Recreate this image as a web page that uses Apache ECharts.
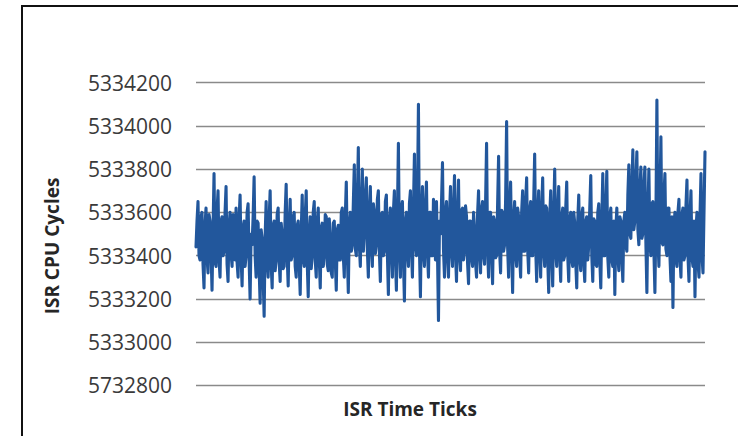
<!DOCTYPE html>
<html>
<head>
<meta charset="utf-8">
<script src="https://cdn.jsdelivr.net/npm/echarts@6/dist/echarts.min.js"></script>
<style>html,body{margin:0;padding:0;background:#fff}#c{width:738px;height:436px}</style>
</head>
<body>
<div id="c"></div>
<script>
// Y tick labels as printed in the original (bottom label typo kept)
const yTickLabels = ['5732800','5333000','5333200','5333400','5333600','5333800','5334000','5334200'];
const yMin = 5332800, yMax = 5334200, yStep = 200;

// ISR CPU cycles (approximate samples)
const cycles = [
5333440,5333560,5333650,5333400,5333380,5333580,5333600,5333360,5333250,5333540,5333620,5333390,5333320,5333590,5333560,5333420,5333240,5333520,5333780,5333370,
5333350,5333610,5333700,5333380,5333300,5333560,5333580,5333400,5333420,5333600,5333720,5333360,5333280,5333540,5333600,5333410,5333350,5333590,5333500,5333380,
5333620,5333370,5333300,5333570,5333680,5333390,5333260,5333530,5333560,5333350,5333400,5333600,5333640,5333380,5333200,5333500,5333450,5333580,5333765,5333400,
5333300,5333560,5333550,5333340,5333180,5333520,5333480,5333300,5333120,5333490,5333650,5333380,5333300,5333570,5333700,5333360,5333250,5333540,5333560,5333330,
5333380,5333590,5333620,5333370,5333280,5333550,5333500,5333340,5333350,5333600,5333730,5333400,5333260,5333530,5333660,5333380,5333400,5333580,5333600,5333350,
5333300,5333540,5333560,5333360,5333220,5333510,5333680,5333390,5333350,5333580,5333700,5333370,5333210,5333500,5333580,5333340,5333400,5333600,5333650,5333380,
5333300,5333560,5333620,5333390,5333250,5333530,5333550,5333350,5333400,5333590,5333580,5333360,5333330,5333570,5333480,5333320,5333300,5333550,5333560,5333380,
5333240,5333520,5333540,5333380,5333380,5333600,5333620,5333400,5333300,5333580,5333740,5333420,5333230,5333540,5333600,5333420,5333450,5333640,5333820,5333430,
5333400,5333650,5333900,5333450,5333350,5333620,5333800,5333420,5333500,5333680,5333760,5333430,5333300,5333600,5333720,5333440,5333350,5333640,5333600,5333410,
5333450,5333660,5333700,5333420,5333280,5333590,5333600,5333400,5333420,5333650,5333680,5333410,5333220,5333560,5333620,5333430,5333300,5333600,5333700,5333400,
5333240,5333580,5333920,5333440,5333300,5333620,5333650,5333390,5333190,5333560,5333600,5333420,5333350,5333640,5333700,5333430,5333300,5333610,5333870,5333450,
5333400,5333650,5334100,5333430,5333210,5333580,5333720,5333410,5333350,5333630,5333740,5333420,5333300,5333600,5333600,5333400,5333400,5333660,5333500,5333380,
5333650,5333420,5333100,5333560,5333500,5333640,5333830,5333430,5333300,5333600,5333650,5333400,5333300,5333590,5333720,5333420,5333350,5333620,5333770,5333410,
5333280,5333580,5333750,5333400,5333330,5333610,5333620,5333380,5333420,5333630,5333580,5333370,5333270,5333560,5333560,5333390,5333350,5333600,5333520,5333370,
5333300,5333590,5333700,5333410,5333320,5333620,5333650,5333400,5333360,5333640,5333920,5333430,5333300,5333600,5333600,5333410,5333270,5333580,5333560,5333390,
5333400,5333630,5333860,5333420,5333320,5333610,5333600,5333420,5333450,5333660,5334020,5333440,5333300,5333620,5333740,5333430,5333230,5333570,5333650,5333410,
5333350,5333620,5333580,5333400,5333300,5333600,5333700,5333420,5333420,5333650,5333760,5333430,5333320,5333610,5333650,5333400,5333400,5333640,5333870,5333440,
5333280,5333590,5333700,5333410,5333300,5333610,5333760,5333420,5333350,5333630,5333620,5333390,5333230,5333570,5333700,5333410,5333260,5333590,5333800,5333420,
5333350,5333610,5333720,5333400,5333280,5333580,5333620,5333380,5333400,5333620,5333740,5333400,5333280,5333570,5333600,5333380,5333350,5333600,5333550,5333370,
5333250,5333560,5333680,5333390,5333330,5333590,5333620,5333370,5333280,5333560,5333580,5333380,5333450,5333620,5333770,5333400,5333280,5333570,5333560,5333360,
5333350,5333600,5333640,5333380,5333250,5333560,5333780,5333400,5333400,5333620,5333790,5333390,5333300,5333580,5333620,5333380,5333350,5333560,5333220,5333520,
5333620,5333400,5333330,5333580,5333560,5333390,5333280,5333560,5333600,5333450,5333420,5333680,5333820,5333500,5333480,5333720,5333890,5333520,5333560,5333740,
5333880,5333520,5333450,5333700,5333810,5333480,5333500,5333720,5333810,5333460,5333230,5333600,5333800,5333450,5333400,5333640,5333650,5333420,5333230,5333560,
5334120,5333480,5333350,5333640,5333950,5333460,5333450,5333680,5333780,5333430,5333400,5333620,5333620,5333400,5333280,5333580,5333160,5333540,5333600,5333380,
5333350,5333600,5333660,5333390,5333300,5333590,5333620,5333380,5333400,5333630,5333750,5333400,5333280,5333580,5333700,5333390,5333350,5333560,5333210,5333520,
5333600,5333370,5333300,5333580,5333780,5333400,5333320,5333600,5333880
];
const ticks = cycles.map((_, i) => String(i + 1));

const chart = echarts.init(document.getElementById('c'), null, {renderer: 'svg'});
chart.setOption({
  animation: false,
  backgroundColor: '#ffffff',
  grid: {left: 196, right: 33, top: 82.7, bottom: 50.7, containLabel: false},
  xAxis: {
    type: 'category', data: ticks, boundaryGap: false,
    axisLine: {show: false}, axisTick: {show: false}, axisLabel: {show: false},
    splitLine: {show: false}
  },
  yAxis: {
    type: 'value', min: yMin, max: yMax, interval: yStep,
    axisLine: {show: false}, axisTick: {show: false},
    axisLabel: {
      margin: 24, color: '#3a3a3a', fontFamily: 'Open Sans', fontSize: 21,
      formatter: v => yTickLabels[Math.round((v - yMin) / yStep)]
    },
    splitLine: {lineStyle: {color: '#8a8a8a', width: 1.4}}
  },
  graphic: [
    {type: 'rect', shape: {x: 22, y: 6, width: 760, height: 480}, style: {fill: 'none', stroke: '#111', lineWidth: 2}, silent: true},
    {type: 'text', x: 52, y: 246, rotation: Math.PI / 2,
      style: {text: 'ISR CPU Cycles', fill: '#262626', font: 'bold 19px "Open Sans"', textAlign: 'center', textVerticalAlign: 'middle'}},
    {type: 'text', x: 410, y: 409,
      style: {text: 'ISR Time Ticks', fill: '#262626', font: 'bold 19px "Open Sans"', textAlign: 'center', textVerticalAlign: 'middle'}}
  ],
  series: [{
    type: 'line', data: cycles, symbol: 'none',
    lineStyle: {color: '#22579C', width: 3.1, join: 'round', cap: 'round'}
  }]
});
</script>
</body>
</html>
